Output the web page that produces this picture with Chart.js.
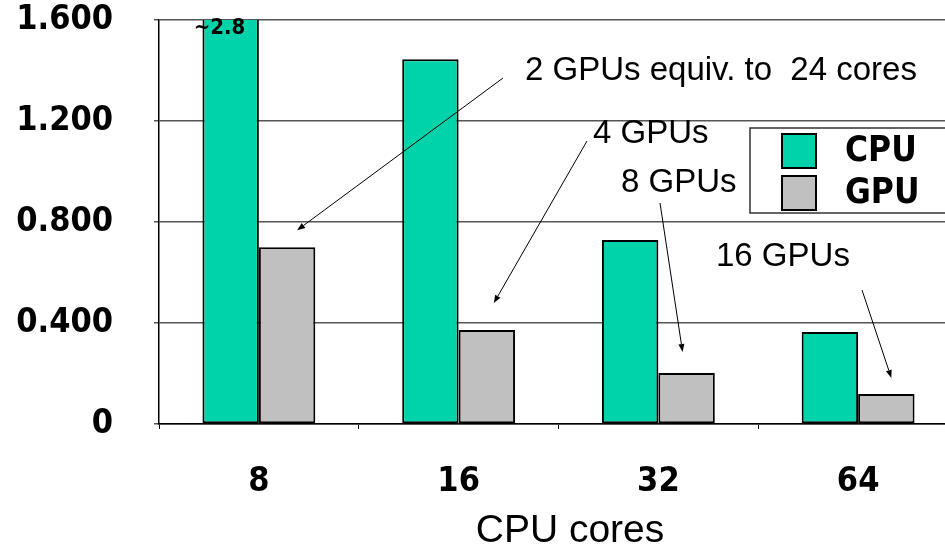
<!DOCTYPE html>
<html>
<head>
<meta charset="utf-8">
<title>CPU vs GPU</title>
<script src="https://cdn.jsdelivr.net/npm/chart.js@4.4.1/dist/chart.umd.min.js"></script>
<style>
  html, body { margin: 0; padding: 0; background: #fff; overflow: hidden; }
  #wrap { position: relative; width: 962px; height: 550px; }
</style>
</head>
<body>
<div id="wrap"><canvas id="chart"></canvas></div>
<script>
// data
const categories = ["8", "16", "32", "64"];
const cpuTimes = [2.8, 1.445, 0.729, 0.364];
const gpuTimes = [0.70, 0.372, 0.202, 0.119];
const seriesNames = ["CPU", "GPU"];
const yTickLabels = ["0", "0.400", "0.800", "1.200", "1.600"];
const gpuNotes = ["2 GPUs equiv. to  24 cores", "4 GPUs", "8 GPUs", "16 GPUs"];
const xTitle = "CPU cores";

const boldFont = '"DejaVu Sans Condensed", "DejaVu Sans", sans-serif';
const plainFont = '"Liberation Sans", Arial, sans-serif';

// where each note sits and where its arrow starts / lands relative to the GPU bar top
const notePlacement = [
  { tx: 525, ty: 71, sx: 503, sy: 78, dx: 10, dy: -17 },
  { tx: 593, ty: 134, sx: 587, sy: 141, dx: 7, dy: -27 },
  { tx: 621, ty: 183, sx: 660, sy: 203, dx: -4, dy: -21 },
  { tx: 716, ty: 257, sx: 862, sy: 290, dx: 5, dy: -16 },
];

function drawArrow(ctx, x1, y1, x2, y2) {
  const a = Math.atan2(y2 - y1, x2 - x1);
  const len = 8, w = 3;
  const bx = x2 - len * Math.cos(a), by = y2 - len * Math.sin(a);
  ctx.beginPath();
  ctx.moveTo(x1, y1);
  ctx.lineTo(bx, by);
  ctx.stroke();
  ctx.beginPath();
  ctx.moveTo(x2, y2);
  ctx.lineTo(bx + w * Math.sin(a), by - w * Math.cos(a));
  ctx.lineTo(bx - w * Math.sin(a), by + w * Math.cos(a));
  ctx.closePath();
  ctx.fill();
}

const notesPlugin = {
  id: "notes",
  afterDatasetsDraw(chart) {
    const ctx = chart.ctx;
    const top = chart.chartArea.top;
    const yMax = chart.scales.y.max;
    ctx.save();

    // value label for bars that run off the top
    const cpuMeta = chart.getDatasetMeta(0);
    ctx.font = "bold 22px " + boldFont;
    ctx.fillStyle = "#000";
    ctx.textAlign = "left";
    ctx.textBaseline = "middle";
    cpuTimes.forEach((v, i) => {
      if (v > yMax) ctx.fillText("~" + v, cpuMeta.data[i].x - 37, top + 8);
    });

    // GPU notes with arrows
    const gpuMeta = chart.getDatasetMeta(1);
    ctx.font = "33px " + plainFont;
    ctx.strokeStyle = "#000";
    ctx.lineWidth = 1;
    notePlacement.forEach((p, i) => {
      ctx.fillText(gpuNotes[i], p.tx, p.ty);
      const bar = gpuMeta.data[i];
      drawArrow(ctx, p.sx, p.sy, bar.x + p.dx, bar.y + p.dy);
    });

    // axis title, a little right of the plot centre like the original
    ctx.font = "39px " + plainFont;
    ctx.textAlign = "center";
    ctx.fillText(xTitle, 570, 531);
    ctx.restore();
  },
  afterDraw(chart) {
    // boxed legend on the right
    const ctx = chart.ctx;
    ctx.save();
    ctx.fillStyle = "#fff";
    ctx.fillRect(750, 128, 220, 85);
    ctx.strokeStyle = "#333";
    ctx.lineWidth = 1.5;
    ctx.strokeRect(750, 128, 220, 85);
    ctx.font = "bold 35px " + boldFont;
    ctx.textBaseline = "middle";
    chart.data.datasets.forEach((ds, i) => {
      const y = 134 + i * 42;
      ctx.fillStyle = ds.backgroundColor;
      ctx.fillRect(782, y, 34, 34);
      ctx.strokeStyle = "#000";
      ctx.lineWidth = 2;
      ctx.strokeRect(782, y, 34, 34);
      ctx.fillStyle = "#000";
      ctx.fillText(ds.label, 845, y + 18);
    });
    ctx.restore();
  },
};

new Chart(document.getElementById("chart"), {
  type: "bar",
  data: {
    labels: categories,
    datasets: [
      {
        label: seriesNames[0],
        data: cpuTimes,
        backgroundColor: "#00D2AA",
        borderColor: "#000",
        borderWidth: 2,
        borderSkipped: false,
        categoryPercentage: 0.565,
        barPercentage: 1,
      },
      {
        label: seriesNames[1],
        data: gpuTimes,
        backgroundColor: "#C0C0C0",
        borderColor: "#000",
        borderWidth: 2,
        borderSkipped: false,
        categoryPercentage: 0.565,
        barPercentage: 1,
      },
    ],
  },
  options: {
    responsive: true,
    maintainAspectRatio: false,
    animation: false,
    layout: { padding: { top: 20, right: 4, bottom: 0, left: 0 } },
    plugins: {
      legend: { display: false },
      tooltip: { enabled: false },
    },
    scales: {
      x: {
        afterFit: (scale) => { scale.height = 126; },
        grid: {
          display: true,
          drawOnChartArea: false,
          tickLength: 5,
          color: "#000",
          lineWidth: 1,
        },
        border: { color: "#000", width: 1.5 },
        ticks: {
          color: "#000",
          padding: 33,
          font: { family: boldFont, size: 34, weight: "bold" },
        },
      },
      y: {
        min: 0,
        max: 1.6,
        afterFit: (scale) => {
          scale.width = 159;
          scale.paddingTop = 0;
          scale.paddingBottom = 0;
        },
        grid: { color: "#555", lineWidth: 1.5, tickLength: 5 },
        border: { color: "#000", width: 1.5 },
        ticks: {
          stepSize: 0.4,
          color: "#000",
          padding: 41,
          font: { family: boldFont, size: 34, weight: "bold", lineHeight: 1 },
          callback: (value, index) => yTickLabels[index],
        },
      },
    },
  },
  plugins: [notesPlugin],
});
</script>
</body>
</html>
